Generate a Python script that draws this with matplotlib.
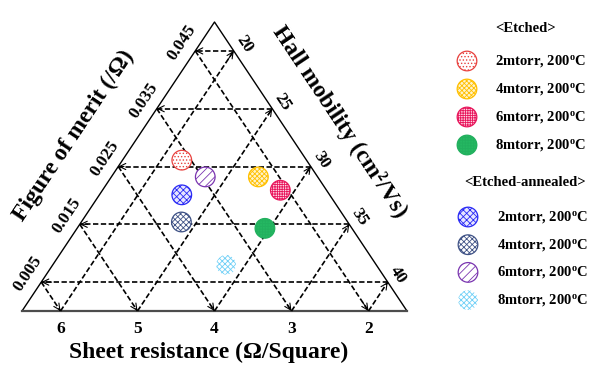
import numpy as np
import matplotlib.pyplot as plt

plt.rcParams['font.family'] = ['Liberation Serif', 'DejaVu Sans']
plt.rcParams['font.weight'] = 'bold'
plt.rcParams['mathtext.fontset'] = 'custom'
plt.rcParams['mathtext.rm'] = 'Liberation Serif:bold'
plt.rcParams['mathtext.bf'] = 'Liberation Serif:bold'
plt.rcParams['mathtext.default'] = 'bf'
plt.rcParams['hatch.linewidth'] = 0.6

# muestras: resistencia de hoja, figura de merito, movilidad Hall
etched_names = ["2mtorr", "4mtorr", "6mtorr", "8mtorr"]
etched_rs = [3.12, 2.27, 2.10, 2.63]
etched_fom = [0.0261, 0.0232, 0.0209, 0.0143]
etched_hall = [29.4, 30.9, 32.0, 35.3]

annealed_names = ["2mtorr", "4mtorr", "6mtorr", "8mtorr"]
annealed_rs = [3.42, 3.66, 2.96, 3.45]
annealed_fom = [0.0201, 0.0154, 0.0232, 0.0080]
annealed_hall = [32.5, 34.8, 30.9, 38.5]

rs_ticks = [6, 5, 4, 3, 2]
fom_ticks = [0.005, 0.015, 0.025, 0.035, 0.045]
hall_ticks = [40, 35, 30, 25, 20]
fom_labels = ["0.005", "0.015", "0.025", "0.035", "0.045"]

# estilos (borde, trama, relleno, patron)
etched_style = [("#e8423f", "#f09a98", "white", "....."),
                ("#ffc000", "#f5b400", "#fff3cc", "xxxxxxx"),
                ("#e8175d", "#e8175d", "#ffd6e4", "+++++++"),
                ("#22b05e", "#7fd9a3", "#25b862", "++++++")]
annealed_style = [("#2a2af5", "#2a2af5", "#e6e6ff", "xxxxx"),
                  ("#3f5286", "#3f5286", "white", "xxxxxx"),
                  ("#7a35b0", "#7a35b0", "white", "////"),
                  ("none", "#6fd0f7", "white", "xxxxxx")]

# triangulo: base en resistencia, altura en figura de merito
RS_L, RS_R, TOP = 6.5, 1.5, 0.05
k = (RS_L - RS_R) / 2 / TOP


def pos(rs, fom):
    # se lee la resistencia siguiendo las lineas paralelas al lado derecho
    return rs + k * np.asarray(fom), np.asarray(fom)


fig = plt.figure(figsize=(5.89, 3.66), dpi=100)
ax = fig.add_axes([0, 0, 1, 1])
ax.set_xlim(6.786, -0.864)
ax.set_ylim(-0.009516, 0.05381)
ax.axis('off')

ax.plot([RS_L, (RS_L + RS_R) / 2, RS_R], [0, TOP, 0], color='k', lw=1.0)
ax.plot([RS_L, RS_R], [0, 0], color='0.3', lw=1.6)

dash = dict(color='k', lw=1.2, ls=(0, (3.2, 1.5)))
arrow = dict(arrowstyle='->,head_length=0.45,head_width=0.22', lw=0.8,
             color='k', shrinkA=0, shrinkB=0)


def grid_line(x0, y0, x1, y1):
    # linea punteada con flecha en (x1, y1)
    ax.plot([x0, x1], [y0, y1], **dash)
    ax.annotate('', xy=(x1, y1),
                xytext=(x1 - 0.03 * (x1 - x0), y1 - 0.03 * (y1 - y0)),
                arrowprops=arrow)


for f in fom_ticks:
    xl, xr = RS_L - k * f, RS_R + k * f
    grid_line(xr, f, xl, f)                 # horizontal -> eje izquierdo
    grid_line(xl, f, RS_L - 2 * k * f, 0)   # "\" -> eje inferior
    grid_line(RS_R + 2 * k * f, 0, xr, f)   # "/" -> eje derecho

ang = np.degrees(np.arctan(289 / 192.5))
for f, lab in zip(fom_ticks, fom_labels):
    ax.annotate(lab, (RS_L - k * f, f), xytext=(-9.5, 6.0),
                textcoords='offset points', rotation=ang, fontsize=12.5,
                ha='center', va='center', rotation_mode='anchor')
for f, h in zip(fom_ticks, hall_ticks):
    ax.annotate(str(h), (RS_R + k * f, f), xytext=(7.5, 5.0),
                textcoords='offset points', rotation=-ang, fontsize=12.5,
                ha='center', va='center', rotation_mode='anchor')
for r in rs_ticks:
    ax.annotate(str(r), (r, 0), xytext=(0, -13), textcoords='offset points',
                fontsize=12.5, ha='center', va='center')

fig.text(0.355, 0.036, "Sheet resistance (\u03a9/Square)", fontsize=17,
         ha='center', va='center')
fig.text(0.125, 0.628, "Figure of merit (/\u03a9)", fontsize=17,
         ha='center', va='center', rotation=ang, rotation_mode='anchor')
fig.text(0.577, 0.667, "Hall mobility (cm\u00b2/Vs)", fontsize=17,
         ha='center', va='center', rotation=-ang, rotation_mode='anchor')


def dot(axis, x, y, st):
    edge, hcol, face, hatch = st
    with plt.rc_context({'hatch.color': hcol}):
        axis.scatter(x, y, s=200, marker='o', facecolors=face,
                     edgecolors=edge, hatch=hatch, linewidths=0.9, zorder=5)


ex, ey = pos(etched_rs, etched_fom)
for i in range(4):
    dot(ax, ex[i], ey[i], etched_style[i])
axx, ayy = pos(annealed_rs, annealed_fom)
for i in range(4):
    dot(ax, axx[i], ayy[i], annealed_style[i])

# leyenda en coordenadas de pixel
lg = fig.add_axes([0, 0, 1, 1], facecolor='none')
lg.set_xlim(0, 589)
lg.set_ylim(366, 0)
lg.axis('off')

lg.text(526, 28, "<Etched>", fontsize=10.5, ha='center', va='center')
for i, name in enumerate(etched_names):
    y = 61 + 28 * i
    dot(lg, 467, y, etched_style[i])
    lg.text(495, y, name + ", 200$^{o}$C", fontsize=10.5, va='center')

lg.text(525, 183, "<Etched-annealed>", fontsize=10.5, ha='center', va='center')
for i, name in enumerate(annealed_names):
    y = 217 + 27.7 * i
    dot(lg, 468, y, annealed_style[i])
    lg.text(497, y, name + ", 200$^{o}$C", fontsize=10.5, va='center')

fig.savefig("out.png", dpi=100)
